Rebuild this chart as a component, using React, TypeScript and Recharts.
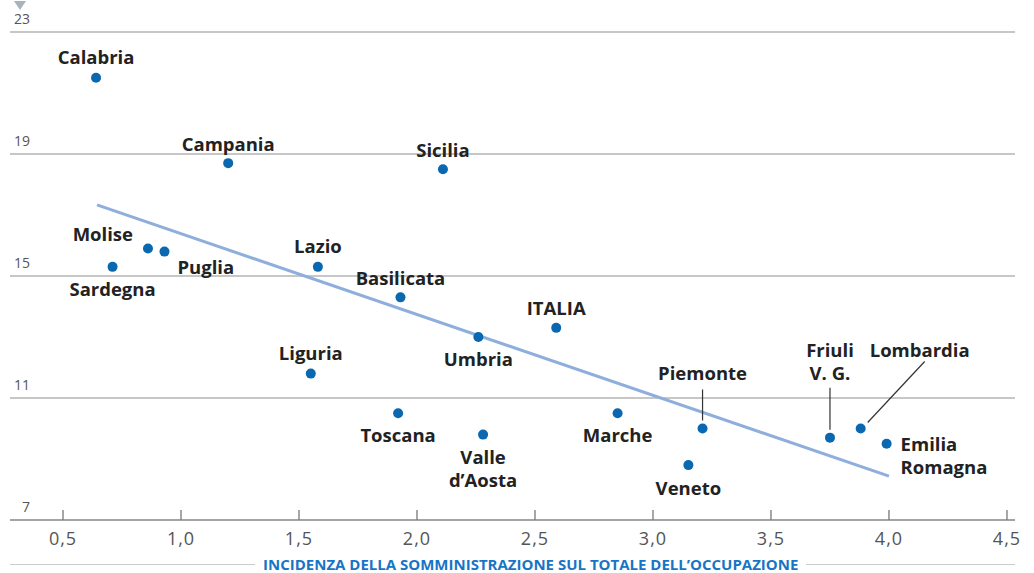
import { ScatterChart, Scatter, XAxis, YAxis, CartesianGrid, ReferenceLine } from 'recharts';

const regions = ['Calabria', 'Campania', 'Sicilia', 'Molise', 'Puglia', 'Sardegna', 'Lazio', 'Basilicata', 'Umbria', 'ITALIA', 'Liguria', 'Toscana', "Valle d'Aosta", 'Marche', 'Piemonte', 'Veneto', 'Friuli V. G.', 'Lombardia', 'Emilia Romagna'];
const somministrazione = [0.64, 1.2, 2.11, 0.86, 0.93, 0.71, 1.58, 1.93, 2.26, 2.59, 1.55, 1.92, 2.28, 2.85, 3.21, 3.15, 3.75, 3.88, 3.99];
const disoccupazione = [21.5, 18.7, 18.5, 15.9, 15.8, 15.3, 15.3, 14.3, 13.0, 13.3, 11.8, 10.5, 9.8, 10.5, 10.0, 8.8, 9.7, 10.0, 9.5];
const trendStart = { x: 0.644, y: 17.33 };
const trendEnd = { x: 4.0, y: 8.44 };
const xTicks = [0.5, 1.0, 1.5, 2.0, 2.5, 3.0, 3.5, 4.0, 4.5];
const yTicks = [7, 11, 15, 19, 23];
const xTitle = 'INCIDENZA DELLA SOMMINISTRAZIONE SUL TOTALE DELL\u2019OCCUPAZIONE';

const data = regions.map((name, i) => ({ name, x: somministrazione[i], y: disoccupazione[i] }));

// label placement relative to the dot: lines of text, anchor, leader line
type Lbl = { lines: string[]; dx: number; dy: number; anchor?: 'start' | 'middle' | 'end'; leader?: [number, number, number, number] };
const labelLayout: Record<string, Lbl> = {
  Calabria: { lines: ['Calabria'], dx: 0, dy: -21 },
  Campania: { lines: ['Campania'], dx: 0, dy: -20 },
  Sicilia: { lines: ['Sicilia'], dx: 0, dy: -20 },
  Molise: { lines: ['Molise'], dx: -15, dy: -15, anchor: 'end' },
  Puglia: { lines: ['Puglia'], dx: 13, dy: 15, anchor: 'start' },
  Sardegna: { lines: ['Sardegna'], dx: 0, dy: 22 },
  Lazio: { lines: ['Lazio'], dx: 0, dy: -21 },
  Basilicata: { lines: ['Basilicata'], dx: 0, dy: -20 },
  Umbria: { lines: ['Umbria'], dx: 0, dy: 21 },
  ITALIA: { lines: ['ITALIA'], dx: 0, dy: -20 },
  Liguria: { lines: ['Liguria'], dx: 0, dy: -21 },
  Toscana: { lines: ['Toscana'], dx: 0, dy: 21 },
  "Valle d'Aosta": { lines: ['Valle', 'd\u2019Aosta'], dx: 0, dy: 22 },
  Marche: { lines: ['Marche'], dx: 0, dy: 21 },
  Piemonte: { lines: ['Piemonte'], dx: 0, dy: -56, leader: [0, -39, 0, -8] },
  Veneto: { lines: ['Veneto'], dx: 0, dy: 22 },
  'Friuli V. G.': { lines: ['Friuli', 'V. G.'], dx: 0, dy: -88, leader: [0, -50, 0, -8] },
  Lombardia: { lines: ['Lombardia'], dx: 59, dy: -79, leader: [64, -67, 7, -6] },
  'Emilia Romagna': { lines: ['Emilia', 'Romagna'], dx: 14, dy: 0, anchor: 'start' },
};

const FONT = '"Open Sans", sans-serif';

const Dot = (props: any) => {
  const { cx, cy, payload } = props;
  const l = labelLayout[payload.name];
  return (
    <g>
      {l.leader && (
        <line x1={cx + l.leader[0]} y1={cy + l.leader[1]} x2={cx + l.leader[2]} y2={cy + l.leader[3]} stroke="#333" strokeWidth={1.2} />
      )}
      <circle cx={cx} cy={cy} r={5} fill="#0a68b0" />
      {l.lines.map((t, i) => (
        <text
          key={i}
          x={cx + l.dx}
          y={cy + l.dy + i * 23}
          textAnchor={l.anchor || 'middle'}
          dominantBaseline="central"
          fontFamily={FONT}
          fontWeight={700}
          fontSize={18.5}
          fill="#222"
        >
          {t}
        </text>
      ))}
    </g>
  );
};

const XTick = (props: any) => {
  const { x, y, payload } = props;
  return (
    <g>
      <line x1={x} y1={y - 10} x2={x} y2={y} stroke="#777" strokeWidth={1.3} />
      <text x={x} y={y + 25} textAnchor="middle" fontFamily={FONT} fontSize={18} letterSpacing={1} fill="#555">
        {payload.value.toFixed(1).replace('.', ',')}
      </text>
    </g>
  );
};

const YTick = (props: any) => {
  const { y, payload } = props;
  return (
    <text x={30} y={y - 8} textAnchor="end" fontFamily={FONT} fontSize={14} fill="#555">
      {payload.value}
    </text>
  );
};

export default function App() {
  return (
    <div style={{ position: 'absolute', left: 0, top: 0, width: 1034, height: 573, background: '#fff', overflow: 'hidden' }}>
      <div style={{ position: 'absolute', left: 14, top: 1, width: 0, height: 0, borderLeft: '6px solid transparent', borderRight: '6px solid transparent', borderTop: '9px solid #a9b3bd' }} />
      <ScatterChart width={1034} height={555} margin={{ top: 32, right: 19, bottom: 0, left: 0 }}>
        <CartesianGrid horizontal vertical={false} stroke="#b5b5b5" strokeWidth={1.3} />
        <XAxis
          type="number"
          dataKey="x"
          domain={[0.2754, 4.534]}
          ticks={xTicks}
          allowDataOverflow
          tickSize={0}
          tickMargin={0}
          tick={<XTick />}
          axisLine={{ stroke: '#999', strokeWidth: 1.5 }}
          height={35}
        />
        <YAxis type="number" dataKey="y" domain={[7, 23]} ticks={yTicks} width={10} axisLine={false} tickLine={false} tick={<YTick />} />
        <ReferenceLine segment={[trendStart, trendEnd]} stroke="#8eaedc" strokeWidth={3} />
        <Scatter data={data} shape={<Dot />} isAnimationActive={false} />
      </ScatterChart>
      <div style={{ position: 'absolute', left: 10, right: 19, top: 557, height: 15, display: 'flex', alignItems: 'center' }}>
        <div style={{ width: 245, height: 1, background: '#ccc' }} />
        <div style={{ padding: '0 8px', fontFamily: FONT, fontWeight: 700, fontSize: 15, lineHeight: '15px', color: '#1874c4', whiteSpace: 'nowrap' }}>{xTitle}</div>
        <div style={{ flex: 1, height: 1, background: '#ccc' }} />
      </div>
    </div>
  );
}
